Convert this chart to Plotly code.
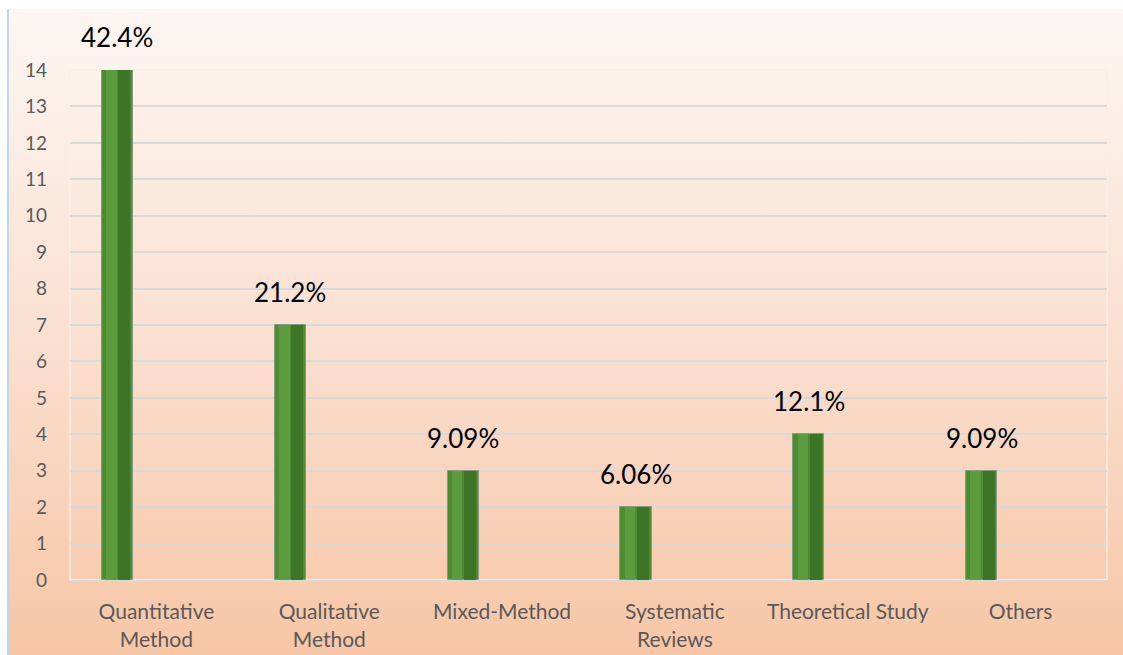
import base64
import plotly.graph_objects as go

categories = ["Quantitative<br>Method", "Qualitative<br>Method", "Mixed-Method",
              "Systematic<br>Reviews", "Theoretical Study", "Others"]
counts = [14, 7, 3, 2, 4, 3]
pct_labels = ["42.4%", "21.2%", "9.09%", "6.06%", "12.1%", "9.09%"]

W, H = 1123, 655
ML, MR, MT, MB = 70, 16, 70, 75
PW, PH = W - ML - MR, H - MT - MB
BG_X0, BG_Y0 = 8, 9   # white strip on left/top of the reference

FONT = "Lato, 'Open Sans', sans-serif"

svg = '''<svg xmlns="http://www.w3.org/2000/svg" width="100" height="100" preserveAspectRatio="none" viewBox="0 0 100 100">
<defs><linearGradient id="g" x1="0" y1="0" x2="0" y2="1">
<stop offset="0" stop-color="#fdf6f2"/>
<stop offset="0.5" stop-color="#fae0d1"/>
<stop offset="1" stop-color="#f7c6a6"/>
</linearGradient></defs>
<rect x="0" y="0" width="100" height="100" fill="url(#g)"/></svg>'''
src = "data:image/svg+xml;base64," + base64.b64encode(svg.encode()).decode()

BAR_OFF = -0.315
BAR_W = 0.18

fig = go.Figure()
fig.add_trace(go.Bar(x=categories, y=counts, offset=BAR_OFF, width=BAR_W,
                     marker=dict(color="#4d8c32", line=dict(color="#8a9a80", width=1)),
                     hoverinfo="skip", showlegend=False))
fig.add_trace(go.Bar(x=categories, y=counts, offset=BAR_OFF + 0.025, width=0.06,
                     marker=dict(color="#5c9c3e", line=dict(width=0)),
                     hoverinfo="skip", showlegend=False))
fig.add_trace(go.Bar(x=categories, y=counts, offset=BAR_OFF + 0.095, width=0.07,
                     marker=dict(color="#3d7526", line=dict(width=0)),
                     hoverinfo="skip", showlegend=False))

for c, v, t in zip(categories, counts, pct_labels):
    fig.add_annotation(x=c, y=v, text=t, showarrow=False, yanchor="bottom",
                       xshift=-39, yshift=15,
                       font=dict(family=FONT, size=26, color="#000000"))

fig.add_layout_image(dict(source=src, xref="paper", yref="paper",
                          x=(BG_X0 - ML) / PW, y=(H - MB - BG_Y0) / PH,
                          sizex=(W - BG_X0) / PW, sizey=(H - BG_Y0) / PH,
                          xanchor="left", yanchor="top", sizing="stretch",
                          layer="below", opacity=1))
fig.add_shape(type="line", xref="paper", yref="paper",
              x0=(BG_X0 - ML) / PW, x1=(BG_X0 - ML) / PW,
              y0=-MB / PH, y1=(H - MB - BG_Y0) / PH,
              line=dict(color="#bdd7ee", width=2))
fig.add_shape(type="rect", xref="paper", yref="paper", x0=0, x1=1, y0=0, y1=1,
              line=dict(color="#fbeee6", width=1.5), layer="below")

fig.update_layout(
    width=W, height=H,
    margin=dict(l=ML, r=MR, t=MT, b=MB),
    paper_bgcolor="#ffffff", plot_bgcolor="rgba(0,0,0,0)",
    barmode="overlay", bargap=0,
    font=dict(family=FONT, size=19, color="#595959"),
    xaxis=dict(showgrid=False, ticks="", showline=True, linecolor="#d9d9d9", linewidth=2,
               tickfont=dict(size=21, color="#595959"), ticklabelstandoff=12,
               automargin=False, fixedrange=True),
    yaxis=dict(range=[0, 14], dtick=1, showgrid=True, gridcolor="#d9d9d9", gridwidth=1.5,
               zeroline=False, ticks="", tickfont=dict(size=19, color="#595959"),
               ticklabelstandoff=22, showline=False, automargin=False, fixedrange=True),
)

fig.write_html("out.html", config={"displayModeBar": False},
               post_script="document.body.style.margin='0';document.body.style.overflow='hidden';")
